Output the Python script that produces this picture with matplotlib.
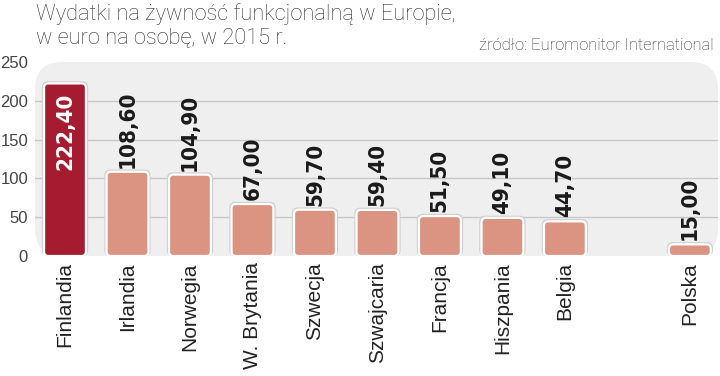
import matplotlib
matplotlib.use("Agg")
import matplotlib.pyplot as plt
from matplotlib.patches import FancyBboxPatch

countries = ["Finlandia", "Irlandia", "Norwegia", "W. Brytania", "Szwecja",
             "Szwajcaria", "Francja", "Hiszpania", "Belgia", "Polska"]
values = [222.40, 108.60, 104.90, 67.00, 59.70, 59.40, 51.50, 49.10, 44.70, 15.00]
positions = [0, 1, 2, 3, 4, 5, 6, 7, 8, 10]
yticks = [0, 50, 100, 150, 200, 250]
title = "Wydatki na żywność funkcjonalną w Europie,\nw euro na osobę, w 2015 r."
source = "źródło: Euromonitor International"

W, H = 720, 376
fig = plt.figure(figsize=(W / 100, H / 100), dpi=100)
fig.patch.set_facecolor("white")

left, right, top, bottom = 35, 718, 62, 256
ax = fig.add_axes([left / W, 1 - bottom / H, (right - left) / W, (bottom - top) / H])
ax.set_facecolor("none")
for s in ax.spines.values():
    s.set_visible(False)

# panel background with rounded corners
panel = FancyBboxPatch((0, 0), 1, 1, boxstyle="round,pad=0,rounding_size=0.04",
                       mutation_aspect=(right - left) / (bottom - top),
                       transform=ax.transAxes, facecolor="#efefef", edgecolor="none",
                       zorder=0, clip_on=False)
ax.add_patch(panel)

ax.set_xlim(-0.48, 10.45)
ax.set_ylim(0, 250)

for yv in yticks[1:-1]:
    ax.axhline(yv, color="#c9c9c9", lw=1.0, zorder=1)

ax.set_yticks(yticks)
ax.set_yticklabels([str(t) for t in yticks], fontsize=12, color="#444444",
                   family="Liberation Sans")
ax.tick_params(axis="y", length=0, pad=5)
ax.tick_params(axis="x", length=0)
ax.set_xticks([])

colors = ["#a51c30"] + ["#dc9482"] * (len(values) - 1)
bars = ax.bar(positions, values, width=0.67, color="none", edgecolor="none")

xpx = (right - left) / (10.45 + 0.48)
ypx = (bottom - top) / 250
r = 4.5
for b, c in zip(bars, colors):
    x0, y0, w, h = b.get_x(), b.get_y(), b.get_width(), b.get_height()
    rs = r / xpx
    shadow = FancyBboxPatch((x0 - 2.2 / xpx, y0), w + 4.4 / xpx, h + 2.2 / ypx,
                            boxstyle=f"round,pad=0,rounding_size={rs * 1.3}",
                            mutation_aspect=xpx / ypx, facecolor="#cfcfcf",
                            edgecolor="none", zorder=2)
    ax.add_patch(shadow)
    p = FancyBboxPatch((x0, y0), w, h, boxstyle=f"round,pad=0,rounding_size={rs}",
                       mutation_aspect=xpx / ypx, facecolor=c, edgecolor="white",
                       lw=1.6, zorder=3)
    ax.add_patch(p)

for i, (pos, v) in enumerate(zip(positions, values)):
    lab = f"{v:.2f}".replace(".", ",")
    if i == 0:
        ax.text(pos, v - 12, lab, rotation=90, ha="center", va="top", color="white",
                fontsize=16, fontweight="bold", family="DejaVu Sans",
                fontstretch="condensed", zorder=4)
    else:
        ax.text(pos, v + 5, lab, rotation=90, ha="center", va="bottom", color="#1a1a1a",
                fontsize=16, fontweight="bold", family="DejaVu Sans",
                fontstretch="condensed", zorder=4)
    ax.text(pos, -8, countries[i], rotation=90, ha="center", va="top", color="#222222",
            fontsize=15, family="Liberation Sans", zorder=4, clip_on=False)

fig.text(36 / W, 1 - 3 / H, title, ha="left", va="top", fontsize=15.7,
         color="#333333", family="Roboto", fontweight="light", linespacing=1.18)
fig.text(714 / W, 1 - 46 / H, source, ha="right", va="center", fontsize=12,
         color="#333333", family="Roboto", fontweight="light")

fig.savefig("out.png", dpi=100, facecolor="white")
